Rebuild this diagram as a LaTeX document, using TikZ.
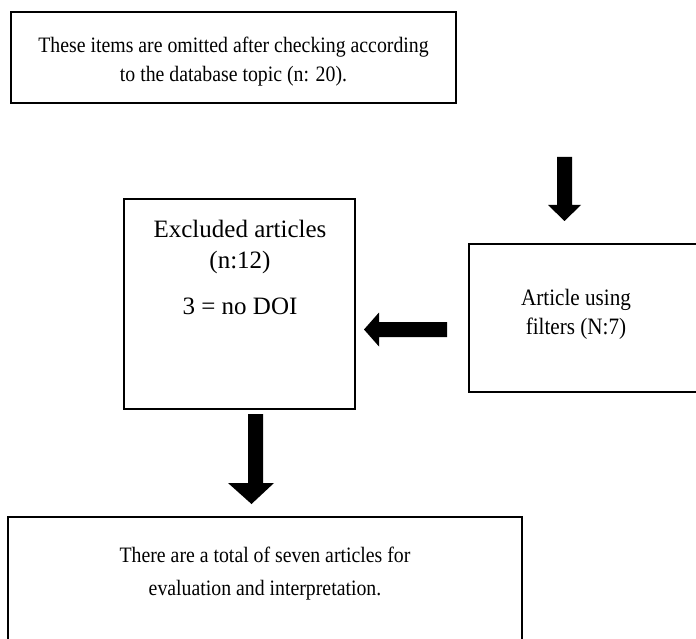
\documentclass[tikz,border=0pt]{standalone}
\usepackage{fontspec}
\setmainfont{Liberation Serif}
\newfontfamily\condfont{Liberation Serif}[FakeStretch=0.9]
\usetikzlibrary{calc}
\begin{document}
\begin{tikzpicture}[x=1pt,y=-1pt,
  box/.style={draw=black, line width=2pt, rectangle, inner sep=0pt},
  txt/.style={align=center, inner sep=0pt, font=\condfont\fontsize{22pt}{29pt}\selectfont},
  blk/.style={fill=black, draw=none}]
\useasboundingbox (0,0) rectangle (696,639);
\clip (0,0) rectangle (696,639);
% boxes
\node[box, minimum width=445pt, minimum height=91pt] (top) at (233.5,57.5) {};
\node[box, minimum width=231pt, minimum height=210pt] (excl) at (239.5,304) {};
\node[box, minimum width=251pt, minimum height=148pt] (filt) at (594.5,318) {};
\node[box, minimum width=514pt, minimum height=143pt] (final) at (265,588.5) {};
% texts
\node[txt] (toptxt) at (233.5,62) {These items are omitted after checking according\\to the database topic (n: 20).};
\node[txt, font=\fontsize{25pt}{31pt}\selectfont] (excltxt) at (240,246.5) {Excluded articles\\(n:12)};
\node[txt, font=\fontsize{25pt}{31pt}\selectfont] (doitxt) at (240,306) {3 = no DOI};
\node[txt, font=\condfont\fontsize{23.5pt}{29pt}\selectfont] (filttxt) at (576,314.5) {Article using\\filters (N:7)};
\node[txt, font=\condfont\fontsize{22pt}{33pt}\selectfont] (finaltxt) at (265,574) {There are a total of seven articles for\\evaluation and interpretation.};
% arrow 1: top -> filters
\coordinate (a1s) at (564.5,157);
\coordinate (a1e) at (564.5,221);
\fill[blk] ($(a1s)+(-7.5,0)$) -- ($(a1s)+(7.5,0)$) -- ($(a1e)+(7.5,-16)$) -- ($(a1e)+(16.5,-16)$) -- (a1e) -- ($(a1e)+(-16.5,-16)$) -- ($(a1e)+(-7.5,-16)$) -- cycle;
% arrow 2: filters -> excluded
\coordinate (a2s) at (447,329.5);
\coordinate (a2e) at (364,329.5);
\fill[blk] ($(a2s)+(0,-7.5)$) -- ($(a2e)+(15,-7.5)$) -- ($(a2e)+(15,-17)$) -- (a2e) -- ($(a2e)+(15,17)$) -- ($(a2e)+(15,7.5)$) -- ($(a2s)+(0,7.5)$) -- cycle;
% arrow 3: excluded -> final
\coordinate (a3s) at (255.5,414);
\coordinate (a3e) at (251.5,504);
\fill[blk] ($(a3s)+(-7.5,0)$) -- ($(a3s)+(7.5,0)$) -- ($(a3e)+(11.5,-21)$) -- ($(a3e)+(22.5,-21)$) -- (a3e) -- ($(a3e)+(-23.5,-21)$) -- ($(a3e)+(-3.5,-21)$) -- cycle;
\end{tikzpicture}
\end{document}
